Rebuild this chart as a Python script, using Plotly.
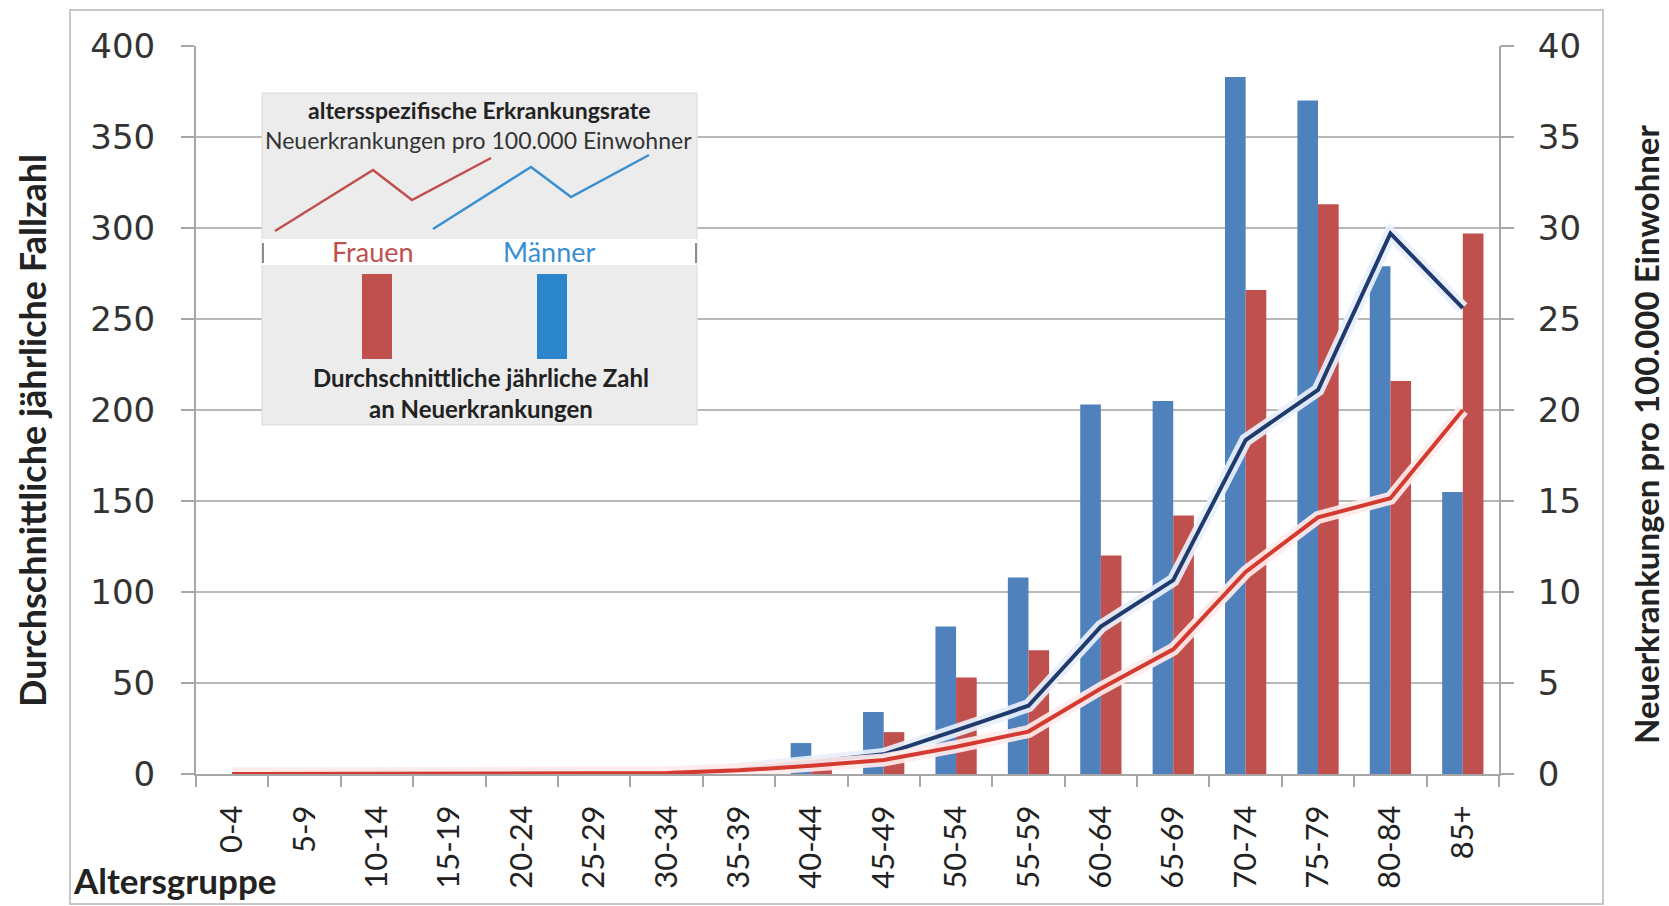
import plotly.graph_objects as go

# Altersgruppen
age_groups = ["0-4", "5-9", "10-14", "15-19", "20-24", "25-29", "30-34", "35-39",
              "40-44", "45-49", "50-54", "55-59", "60-64", "65-69", "70-74",
              "75-79", "80-84", "85+"]

# Durchschnittliche jährliche Zahl an Neuerkrankungen
cases_men = [0, 0, 0, 0, 0, 0, 0, 3, 17, 34, 81, 108, 203, 205, 383, 370, 279, 155]
cases_women = [0, 0, 0, 0, 0, 0, 0, 1, 5, 23, 53, 68, 120, 142, 266, 313, 216, 297]

# Altersspezifische Erkrankungsrate (pro 100.000 Einwohner)
rate_men = [0, 0, 0, 0, 0, 0, 0.05, 0.25, 0.65, 1.08, 2.4, 3.75, 8.1, 10.65, 18.35, 21.1, 29.7, 25.6]
rate_women = [0, 0, 0, 0, 0, 0, 0.05, 0.2, 0.45, 0.77, 1.5, 2.33, 4.7, 6.85, 11.1, 14.1, 15.15, 20.0]

BAR_BLUE = "#4F81BD"
BAR_RED = "#C0504D"
LINE_NAVY = "#1F3B6E"
LINE_RED = "#D43A2F"
AXIS_GRAY = "#A6A6A6"
GRID_GRAY = "#B8B8B8"
TEXT = "#222222"

W, H = 1669, 906
L, R, T, B = 196, 1499, 46, 774


def px(x):
    return (x - L) / (R - L)


def py(y):
    return (B - y) / (B - T)


fig = go.Figure()

fig.add_trace(go.Bar(x=age_groups, y=cases_men, marker_color=BAR_BLUE,
                     marker_line_width=0, name="Männer"))
fig.add_trace(go.Bar(x=age_groups, y=cases_women, marker_color=BAR_RED,
                     marker_line_width=0, name="Frauen"))

# Rate lines with a soft light halo underneath
fig.add_trace(go.Scatter(x=age_groups, y=rate_men, yaxis="y2", mode="lines",
                         line=dict(color="rgba(232,240,252,0.92)", width=13),
                         hoverinfo="skip"))
fig.add_trace(go.Scatter(x=age_groups, y=rate_men, yaxis="y2", mode="lines",
                         line=dict(color=LINE_NAVY, width=4), name="Männer Rate"))
fig.add_trace(go.Scatter(x=age_groups, y=rate_women, yaxis="y2", mode="lines",
                         line=dict(color="rgba(255,236,234,0.92)", width=13),
                         hoverinfo="skip"))
fig.add_trace(go.Scatter(x=age_groups, y=rate_women, yaxis="y2", mode="lines",
                         line=dict(color=LINE_RED, width=4), name="Frauen Rate"))

tick_font = dict(family="DejaVu Sans", size=34, color="#333333")

fig.update_layout(
    width=W, height=H,
    margin=dict(l=L, r=W - R, t=T, b=H - B, pad=0),
    paper_bgcolor="white", plot_bgcolor="white",
    showlegend=False,
    barmode="group", bargap=0.43, bargroupgap=0,
    xaxis=dict(
        type="category", tickson="boundaries", ticks="outside", ticklen=11,
        tickwidth=2, tickcolor=AXIS_GRAY, showline=True, linecolor=AXIS_GRAY,
        linewidth=2, showgrid=False, tickangle=-90,
        tickfont=dict(family="Lato", size=31, color=TEXT),
        ticklabelstandoff=17, fixedrange=True,
    ),
    yaxis=dict(
        range=[0, 400], dtick=50, ticks="outside", ticklen=13, tickwidth=2,
        tickcolor=AXIS_GRAY, showline=True, linecolor=AXIS_GRAY, linewidth=2,
        showgrid=True, gridcolor=GRID_GRAY, gridwidth=2, zeroline=False,
        tickfont=tick_font, ticklabelstandoff=19,
    ),
    yaxis2=dict(
        range=[0, 40], dtick=5, overlaying="y", side="right", ticks="outside",
        ticklen=13, tickwidth=2, tickcolor=AXIS_GRAY, showline=True,
        linecolor=AXIS_GRAY, linewidth=2, showgrid=False, zeroline=False,
        tickfont=tick_font, ticklabelstandoff=17,
    ),
)

shapes = []
# outer frame
shapes.append(dict(type="rect", xref="paper", yref="paper", layer="below",
                   x0=px(70), x1=px(1603), y0=py(904), y1=py(10),
                   line=dict(color="#C8C8C8", width=2), fillcolor="rgba(0,0,0,0)"))
# legend panel
shapes.append(dict(type="rect", xref="paper", yref="paper", layer="above",
                   x0=px(262), x1=px(697), y0=py(425), y1=py(93),
                   line=dict(color="#DADADA", width=1), fillcolor="#ECECEC"))
shapes.append(dict(type="rect", xref="paper", yref="paper", layer="above",
                   x0=px(262), x1=px(697), y0=py(265), y1=py(239),
                   line=dict(width=0), fillcolor="white"))
for xv in (263, 696):
    shapes.append(dict(type="line", xref="paper", yref="paper", layer="above",
                       x0=px(xv), x1=px(xv), y0=py(263), y1=py(243),
                       line=dict(color="#8C8C8C", width=2)))


def zigzag(points):
    return "M " + " L ".join(f"{px(x):.5f},{py(y):.5f}" for x, y in points)


shapes.append(dict(type="path", xref="paper", yref="paper", layer="above",
                   path=zigzag([(275, 231), (373, 170), (412, 200), (491, 158)]),
                   line=dict(color="#C0504D", width=2.5)))
shapes.append(dict(type="path", xref="paper", yref="paper", layer="above",
                   path=zigzag([(433, 229), (531, 167), (571, 197), (649, 155)]),
                   line=dict(color="#3A8FD0", width=2.5)))
shapes.append(dict(type="rect", xref="paper", yref="paper", layer="above",
                   x0=px(362), x1=px(392), y0=py(359), y1=py(274),
                   line=dict(width=0), fillcolor="#C0504D"))
shapes.append(dict(type="rect", xref="paper", yref="paper", layer="above",
                   x0=px(537), x1=px(567), y0=py(359), y1=py(274),
                   line=dict(width=0), fillcolor="#2A85CA"))
fig.update_layout(shapes=shapes)


def note(text, x, y, size, color=TEXT, bold=False, angle=0, family="Lato",
         xanchor="center"):
    fig.add_annotation(
        text=f"<b>{text}</b>" if bold else text,
        xref="paper", yref="paper", x=px(x), y=py(y),
        xanchor=xanchor, yanchor="middle", showarrow=False, textangle=angle,
        font=dict(family=family, size=size, color=color),
    )


# legend texts
note("altersspezifische Erkrankungsrate", 479, 110, 23, bold=True)
note("Neuerkrankungen pro 100.000 Einwohner", 478, 140, 23, color="#333333")
note("Frauen", 373, 251, 27, color="#C0504D")
note("Männer", 549, 251, 27, color="#3A8FD0")
note("Durchschnittliche jährliche Zahl", 481, 377, 24, bold=True)
note("an Neuerkrankungen", 481, 408, 24, bold=True)

# axis titles
note("Durchschnittliche jährliche Fallzahl", 32, 431, 36, bold=True, angle=-90)
note("Neuerkrankungen pro 100.000 Einwohner", 1646, 435, 33, bold=True, angle=-90)
note("Altersgruppe", 71, 880, 35, bold=True, xanchor="left")

fig.write_html("out.html")
